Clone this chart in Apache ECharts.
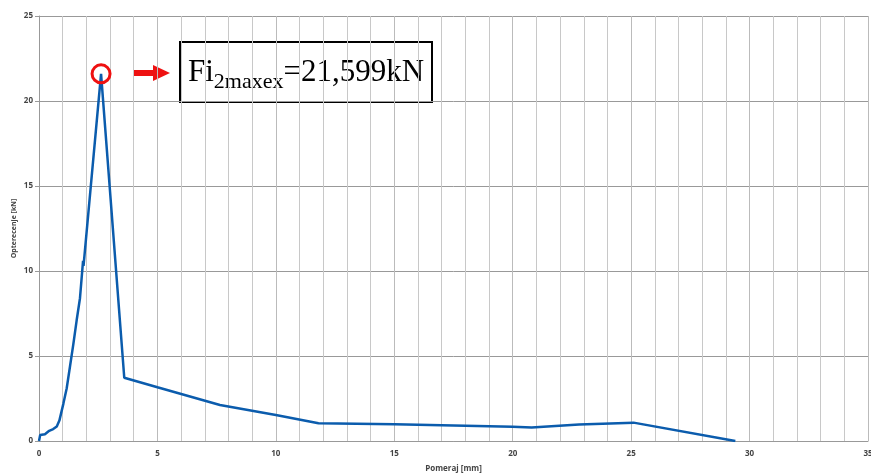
<!DOCTYPE html>
<html>
<head>
<meta charset="utf-8">
<script src="https://cdn.jsdelivr.net/npm/echarts@6/dist/echarts.min.js"></script>
<style>
html,body{margin:0;padding:0;background:#fff;}
#chart{width:871px;height:474px;}
</style>
</head>
<body>
<div id="chart"></div>
<script>
// Displacement [mm]
var displacement = [0, 0.05, 0.11, 0.25, 0.43, 0.6, 0.75, 0.86, 1.03, 1.17, 1.31, 1.45, 1.59, 1.73, 1.86, 1.88, 2.62, 3.6, 5.0, 7.64, 10.0, 11.8, 15, 20, 20.8, 22.8, 25.1, 29.4];
// Load [kN]
var load = [0, 0.35, 0.25, 0.4, 0.6, 0.7, 0.85, 1.2, 2.2, 3.1, 4.4, 5.7, 7.1, 8.4, 10.6, 10.3, 21.599, 3.72, 3.16, 2.12, 1.53, 1.05, 0.98, 0.84, 0.8, 0.97, 1.08, 0];
var peakPoint = [2.62, 21.599];
var xTicks = [0, 5, 10, 15, 20, 25, 30, 35];
var yTicks = [0, 5, 10, 15, 20, 25];
var xAxisName = 'Pomeraj [mm]';
var yAxisName = 'Opterecenje [kN]';

var seriesData = displacement.map(function (d, i) { return [d, load[i]]; });

var chart = echarts.init(document.getElementById('chart'));
var labelStyle = {fontSize: 8, fontWeight: 'bold', color: '#444', fontFamily: 'Open Sans'};
chart.setOption({
  animation: false,
  backgroundColor: '#fff',
  grid: {left: 39, right: 3, top: 16, bottom: 33, containLabel: false, outerBoundsMode: 'none'},
  xAxis: {
    type: 'value', min: xTicks[0], max: xTicks[xTicks.length - 1], interval: 5,
    name: xAxisName, nameLocation: 'middle', nameGap: 24, nameMoveOverlap: false,
    nameTextStyle: {fontSize: 8, fontWeight: 'bold', color: '#444', fontFamily: 'Open Sans'},
    axisLine: {lineStyle: {color: '#999', width: 1}},
    axisTick: {show: false},
    axisLabel: Object.assign({margin: 9, hideOverlap: false}, labelStyle),
    splitLine: {show: true, lineStyle: {color: '#bbb', width: 1}},
    minorTick: {show: false, splitNumber: 5},
    minorSplitLine: {show: true, lineStyle: {color: '#c8c8c8', width: 1}}
  },
  yAxis: {
    type: 'value', min: yTicks[0], max: yTicks[yTicks.length - 1], interval: 5,
    name: yAxisName, nameLocation: 'middle', nameGap: 22, nameRotate: 90, nameMoveOverlap: false,
    nameTextStyle: {fontSize: 7, fontWeight: 'bold', color: '#444', fontFamily: 'Open Sans'},
    axisLine: {show: true, lineStyle: {color: '#999', width: 1}},
    axisTick: {show: true, length: 4, lineStyle: {color: '#999'}},
    axisLabel: Object.assign({margin: 6}, labelStyle),
    splitLine: {show: true, lineStyle: {color: '#999', width: 1}}
  },
  series: [{
    type: 'line',
    data: seriesData,
    symbol: 'none',
    lineStyle: {color: '#0b5cad', width: 2.5},
    markPoint: {
      symbol: 'circle', symbolSize: 18,
      itemStyle: {color: 'rgba(0,0,0,0)', borderColor: '#ee1111', borderWidth: 3},
      label: {show: false},
      data: [{coord: peakPoint}]
    }
  }],
  graphic: [
    {type: 'rect', shape: {x: 133, y: 70, width: 22, height: 6}, style: {fill: '#ee1111'}},
    {type: 'polygon', shape: {points: [[153, 65], [170, 73], [153, 81]]}, style: {fill: '#ee1111'}},
    {type: 'rect', shape: {x: 180, y: 42, width: 252, height: 60}, style: {fill: '#fff', stroke: '#000', lineWidth: 2}},
    {type: 'text', left: 188, top: 57, style: {
      text: '{a|Fi}{b|2maxex}{a|=21,599kN}',
      rich: {
        a: {fontSize: 31, fontFamily: 'Liberation Serif', fill: '#000', verticalAlign: 'bottom'},
        b: {fontSize: 22, fontFamily: 'Liberation Serif', fill: '#000', verticalAlign: 'bottom', padding: [0, 0, -5, 0]}
      }
    }}
  ]
});
</script>
</body>
</html>
